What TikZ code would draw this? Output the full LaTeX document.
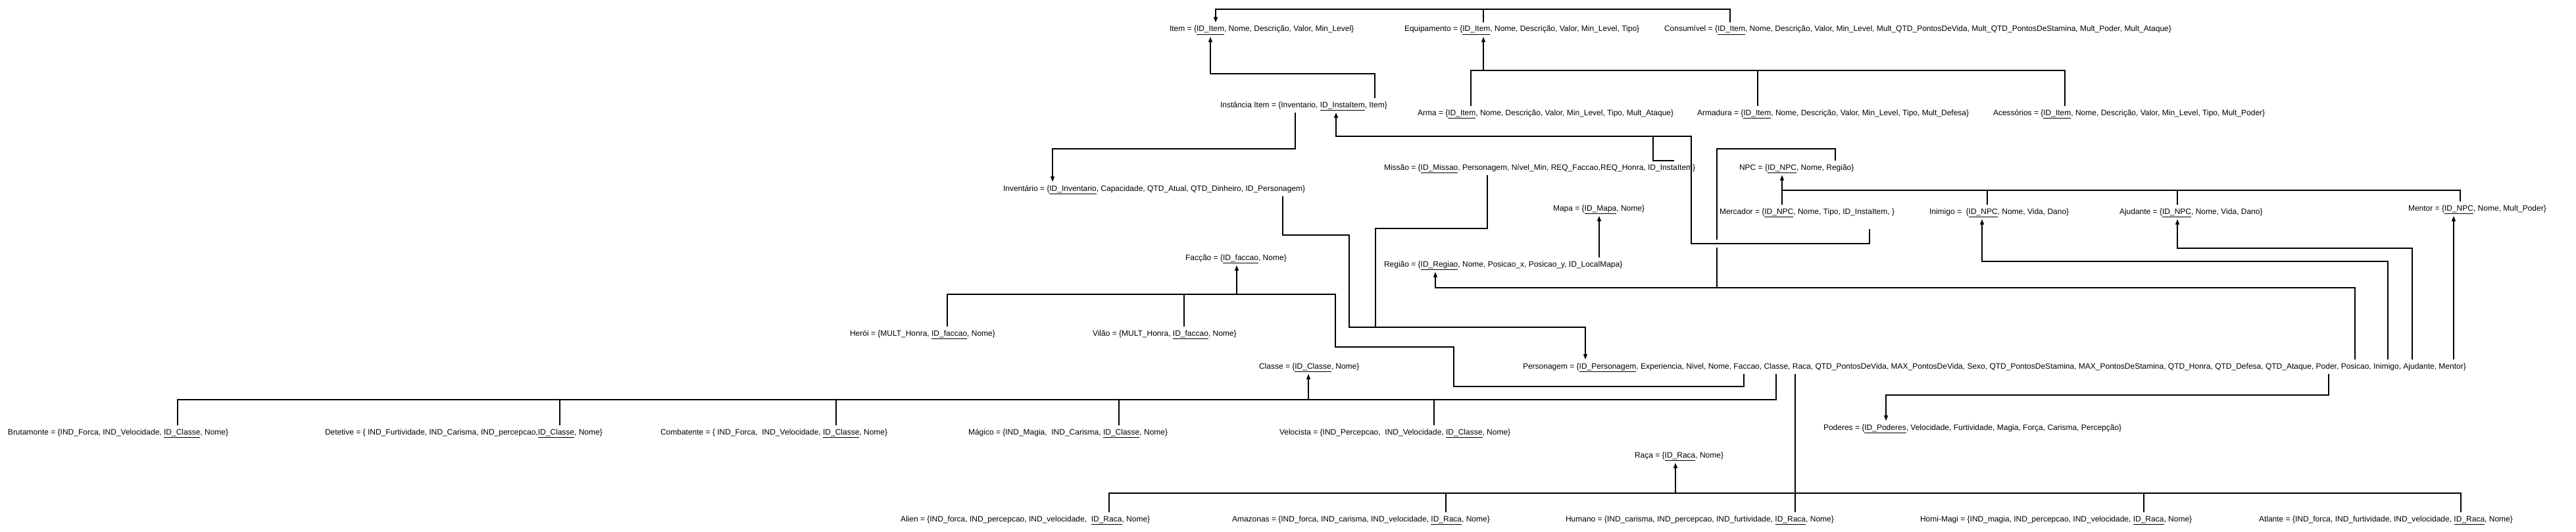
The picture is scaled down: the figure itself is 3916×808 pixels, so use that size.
\documentclass[tikz,border=0pt]{standalone}
\usepackage{fontspec}
\setmainfont{Liberation Sans}
\usetikzlibrary{arrows.meta,calc}
\newcommand{\pk}[1]{\underline{#1}}
\begin{document}
\begin{tikzpicture}[x=1pt,y=-1pt,
  tbl/.style={inner sep=0pt, outer xsep=0pt, outer ysep=5pt, anchor=west, text height=9pt, text depth=3pt, font=\fontsize{12}{14}\selectfont},
  link/.style={draw=black, line width=1.2pt},
  arr/.style={link, -{Triangle[length=8pt,width=6pt]}}]
\useasboundingbox (0,0) rectangle (3916,808);
\fill[white] (0,0) rectangle (3916,808);

% ---------- nodes ----------
\node[tbl] (item) at (1778,45) {Item = \{\pk{ID\_Item}, Nome, Descrição, Valor, Min\_Level\}};
\node[tbl] (equip) at (2135,45) {Equipamento = \{\pk{ID\_Item}, Nome, Descrição, Valor, Min\_Level, Tipo\}};
\node[tbl] (consum) at (2530,45) {Consumível = \{\pk{ID\_Item}, Nome, Descrição, Valor, Min\_Level, Mult\_QTD\_PontosDeVida, Mult\_QTD\_PontosDeStamina, Mult\_Poder, Mult\_Ataque\}};
\node[tbl] (inst) at (1855,160) {Instância Item = \{Inventario, \pk{ID\_InstaItem}, Item\}};
\node[tbl] (arma) at (2155,172) {Arma = \{\pk{ID\_Item}, Nome, Descrição, Valor, Min\_Level, Tipo, Mult\_Ataque\}};
\node[tbl] (armadura) at (2580,172) {Armadura = \{\pk{ID\_Item}, Nome, Descrição, Valor, Min\_Level, Tipo, Mult\_Defesa\}};
\node[tbl] (acess) at (3030,172) {Acessórios = \{\pk{ID\_Item}, Nome, Descrição, Valor, Min\_Level, Tipo, Mult\_Poder\}};
\node[tbl] (missao) at (2104,255) {Missão = \{\pk{ID\_Missao}, Personagem, Nível\_Min, REQ\_Faccao,REQ\_Honra, ID\_InstaItem\}};
\node[tbl] (npc) at (2644,255) {NPC = \{\pk{ID\_NPC}, Nome, Região\}};
\node[tbl] (invent) at (1525,287) {Inventário = \{\pk{ID\_Inventario}, Capacidade, QTD\_Atual, QTD\_Dinheiro, ID\_Personagem\}};
\node[tbl] (mapa) at (2361,317) {Mapa = \{\pk{ID\_Mapa}, Nome\}};
\node[tbl] (mercador) at (2614,322) {Mercador = \{\pk{ID\_NPC}, Nome, Tipo, ID\_InstaItem, \}};
\node[tbl] (inimigo) at (2933,322) {Inimigo =\ \ \{\pk{ID\_NPC}, Nome, Vida, Dano\}};
\node[tbl] (ajudante) at (3222,322) {Ajudante = \{\pk{ID\_NPC}, Nome, Vida, Dano\}};
\node[tbl] (mentor) at (3661,317) {Mentor = \{\pk{ID\_NPC}, Nome, Mult\_Poder\}};
\node[tbl] (faccao) at (1802,392) {Facção = \{\pk{ID\_faccao}, Nome\}};
\node[tbl] (regiao) at (2104,402) {Região = \{\pk{ID\_Regiao}, Nome, Posicao\_x, Posicao\_y, ID\_LocalMapa\}};
\node[tbl] (heroi) at (1292,507) {Herói = \{MULT\_Honra, \pk{ID\_faccao}, Nome\}};
\node[tbl] (vilao) at (1661,507) {Vilão = \{MULT\_Honra, \pk{ID\_faccao}, Nome\}};
\node[tbl] (classe) at (1914,557) {Classe = \{\pk{ID\_Classe}, Nome\}};
\node[tbl] (pers) at (2315,557) {Personagem = \{\pk{ID\_Personagem}, Experiencia, Nivel, Nome, Faccao, Classe, Raca, QTD\_PontosDeVida, MAX\_PontosDeVida, Sexo, QTD\_PontosDeStamina, MAX\_PontosDeStamina, QTD\_Honra, QTD\_Defesa, QTD\_Ataque, Poder, Posicao, Inimigo, Ajudante, Mentor\}};
\node[tbl] (brut) at (12,657) {Brutamonte = \{IND\_Forca, IND\_Velocidade, \pk{ID\_Classe}, Nome\}};
\node[tbl] (detet) at (494,657) {Detetive = \{ IND\_Furtividade, IND\_Carisma, IND\_percepcao,\pk{ID\_Classe}, Nome\}};
\node[tbl] (comb) at (1004,657) {Combatente = \{ IND\_Forca,\ \ IND\_Velocidade, \pk{ID\_Classe}, Nome\}};
\node[tbl] (magico) at (1472,657) {Mágico = \{IND\_Magia,\ \ IND\_Carisma, \pk{ID\_Classe}, Nome\}};
\node[tbl] (veloc) at (1945,657) {Velocista = \{IND\_Percepcao,\ \ IND\_Velocidade, \pk{ID\_Classe}, Nome\}};
\node[tbl] (poderes) at (2772,650) {Poderes = \{\pk{ID\_Poderes}, Velocidade, Furtividade, Magia, Força, Carisma, Percepção\}};
\node[tbl] (raca) at (2485,692) {Raça = \{\pk{ID\_Raca}, Nome\}};
\node[tbl] (alien) at (1369,789) {Alien = \{IND\_forca, IND\_percepcao, IND\_velocidade,\ \ \pk{ID\_Raca}, Nome\}};
\node[tbl] (amaz) at (1873,789) {Amazonas = \{IND\_forca, IND\_carisma, IND\_velocidade, \pk{ID\_Raca}, Nome\}};
\node[tbl] (humano) at (2380,789) {Humano = \{IND\_carisma, IND\_percepcao, IND\_furtividade, \pk{ID\_Raca}, Nome\}};
\node[tbl] (homi) at (2919,789) {Homi-Magi = \{IND\_magia, IND\_percepcao, IND\_velocidade, \pk{ID\_Raca}, Nome\}};
\node[tbl] (atlan) at (3434,789) {Atlante = \{IND\_forca, IND\_furtividade, IND\_velocidade, \pk{ID\_Raca}, Nome\}};

% ---------- connectors ----------
% Item hierarchy
\draw[arr] (2255,0 |- equip.north) -- (2255,14) -- (1848,14) -- (1848,0 |- item.north);
\draw[link] (2630,0 |- consum.north) -- (2630,14) -- (2255,14);
\draw[arr] (2090,0 |- inst.north) -- (2090,112) -- (1840,112) -- (1840,0 |- item.south);
% Equipamento hierarchy
\draw[arr] (2236,0 |- arma.north) -- (2236,107) -- (2255,107) -- (2255,0 |- equip.south);
\draw[link] (2672,0 |- armadura.north) -- (2672,107) -- (2255,107);
\draw[link] (3139,0 |- acess.north) -- (3139,107) -- (2672,107);
% Instancia -> Inventario
\draw[arr] (1969,0 |- inst.south) -- (1969,226) -- (1600,226) -- (1600,0 |- invent.north);
% NPC -> Regiao, Posicao -> Regiao
\draw[arr] (2790,0 |- npc.north) -- (2790,226) -- (2610,226) -- (2610,437) -- (2182,437) -- (2182,0 |- regiao.south);
\draw[link] (3580,0 |- pers.north) -- (3580,437) -- (2610,437);
% line jump gap
\fill[white] (2604,364) rectangle (2616,376);
% Missao / Mercador -> Instancia
\draw[arr] (2545,0 |- missao.north) -- (2513,0 |- missao.north) -- (2513,207) -- (2031,207) -- (2031,0 |- inst.south);
\draw[link] ($(2842,0 |- mercador.south)+(0,15)$) -- (2842,370) -- (2571,370) -- (2571,207) -- (2513,207);
% Regiao -> Mapa
\draw[arr] (2431,0 |- regiao.north) -- (2431,0 |- mapa.south);
% NPC hierarchy
\draw[arr] (2709,0 |- mercador.north) -- (2709,0 |- npc.south);
\draw[link] (3740,0 |- mentor.north) -- (3740,289) -- (2709,289);
\draw[link] (3021,0 |- inimigo.north) -- (3021,289);
\draw[link] (3310,0 |- ajudante.north) -- (3310,289);
% Personagem -> Inimigo / Ajudante / Mentor
\draw[arr] (3630,0 |- pers.north) -- (3630,397) -- (3013,397) -- (3013,0 |- inimigo.south);
\draw[arr] (3667,0 |- pers.north) -- (3667,377) -- (3310,377) -- (3310,0 |- ajudante.south);
\draw[arr] (3730,0 |- pers.north) -- (3730,0 |- mentor.south);
% Faccao hierarchy
\draw[arr] (1440,0 |- heroi.north) -- (1440,447) -- (1880,447) -- (1880,0 |- faccao.south);
\draw[link] (1800,0 |- vilao.north) -- (1800,447);
\draw[link] (2651,0 |- pers.south) -- (2651,587) -- (2210,587) -- (2210,527) -- (2030,527) -- (2030,447) -- (1880,447);
% Inventario / Missao -> Personagem
\draw[arr] (1950,0 |- invent.south) -- (1950,357) -- (2051,357) -- (2051,497) -- (2410,497) -- (2410,0 |- pers.north);
\draw[link] (2261,0 |- missao.south) -- (2261,347) -- (2091,347) -- (2091,497);
% Classe hierarchy
\draw[arr] (2700,0 |- pers.south) -- (2700,607) -- (1989,607) -- (1989,0 |- classe.south);
\draw[link] (270,0 |- brut.north) -- (270,607) -- (1989,607);
\draw[link] (851,0 |- detet.north) -- (851,607);
\draw[link] (1271,0 |- comb.north) -- (1271,607);
\draw[link] (1701,0 |- magico.north) -- (1701,607);
\draw[link] (2180,0 |- veloc.north) -- (2180,607);
% Poderes
\draw[arr] (3540,0 |- pers.south) -- (3540,600) -- (2867,600) -- (2867,0 |- poderes.north);
% Raca hierarchy
\draw[arr] (2729,0 |- pers.south) -- (2729,749) -- (2547,749) -- (2547,0 |- raca.south);
\draw[link] (1686,0 |- alien.north) -- (1686,749) -- (3741,749) -- (3741,0 |- atlan.north);
\draw[link] (2198,0 |- amaz.north) -- (2198,749);
\draw[link] (2729,749) -- (2729,0 |- humano.north);
\draw[link] (3259,0 |- homi.north) -- (3259,749);
\end{tikzpicture}
\end{document}
